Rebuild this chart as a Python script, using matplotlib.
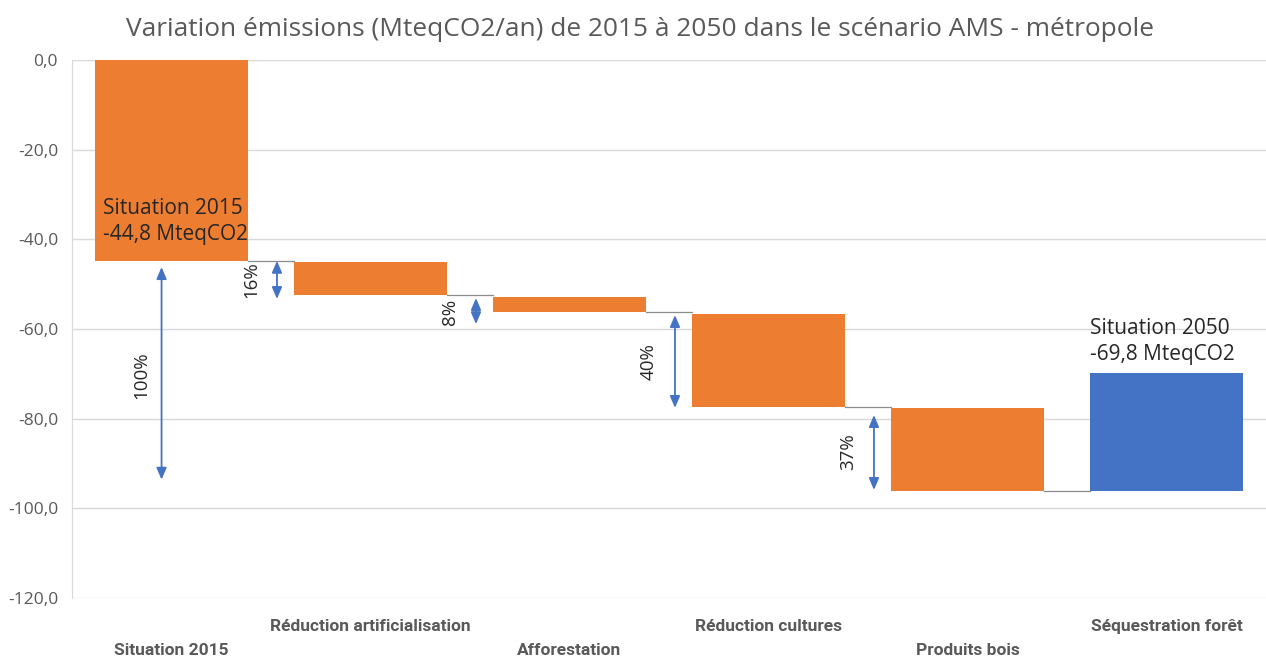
import matplotlib
matplotlib.use('Agg')
import matplotlib.pyplot as plt

# data
categories = ['Situation 2015', 'Réduction artificialisation', 'Afforestation',
              'Réduction cultures', 'Produits bois', 'Séquestration forêt']
bar_top    = [0.0, -45.0, -52.8, -56.7, -77.7, -69.8]
bar_bottom = [-44.8, -52.4, -56.3, -77.3, -96.1, -96.1]
bar_kind   = ['total', 'step', 'step', 'step', 'step', 'total2']

pct_labels = ['100%', '16%', '8%', '40%', '37%']
pct_from   = [-46.2, -44.8, -53.1, -56.9, -79.2]
pct_to     = [-93.6, -53.3, -58.9, -77.6, -95.9]
pct_label_y = [-70.2, -49.0, -56.2, -67.3, -87.4]

yticks = [0, -20, -40, -60, -80, -100, -120]

ORANGE = '#ED7D31'
BLUE   = '#4472C4'
GRID   = '#D9D9D9'
TXT    = '#595959'
DARK   = '#262626'

fig = plt.figure(figsize=(12.66, 6.59), dpi=100)
ax = fig.add_axes([72/1266, 1 - 598/659, 1 - 72/1266, (598 - 60)/659])

W = 0.77
x = list(range(len(categories)))
colors = [BLUE if k == 'total2' else ORANGE for k in bar_kind]
heights = [t - b for t, b in zip(bar_top, bar_bottom)]
ax.bar(x, heights, bottom=bar_bottom, width=W, color=colors, zorder=3)

# connectors between bars
for i in range(len(x) - 1):
    ax.plot([x[i] + W/2, x[i+1] - W/2], [bar_bottom[i], bar_bottom[i]],
            color='#8c8c8c', lw=0.9, zorder=2)

# percentage arrows
arrow_x = [x[0] - 0.05] + [x[i] + 0.53 for i in range(4)]
label_x = [x[0] - 0.15] + [x[i] + 0.40 for i in range(4)]
for ax_, lx, y0, y1, ly, lab in zip(arrow_x, label_x, pct_from, pct_to, pct_label_y, pct_labels):
    ax.annotate('', xy=(ax_, y1), xytext=(ax_, y0),
                arrowprops=dict(arrowstyle='<|-|>,head_length=0.7,head_width=0.3',
                                color=BLUE, lw=1.3, shrinkA=0, shrinkB=0),
                zorder=4)
    ax.text(lx, ly, lab, rotation=90, ha='center', va='center',
            fontsize=13.5, color=DARK, family='Open Sans', zorder=5)

# total labels
ax.annotate('Situation 2015\n-44,8 MteqCO2', xy=(x[0] - W/2, -36.0),
            xytext=(6, 0), textcoords='offset points', ha='left', va='center',
            fontsize=15, color=DARK, family='Open Sans', linespacing=1.3, zorder=5)
ax.annotate('Situation 2050\n-69,8 MteqCO2', xy=(x[5] - W/2, bar_top[5]),
            xytext=(0, 6), textcoords='offset points', ha='left', va='bottom',
            fontsize=15, color=DARK, family='Open Sans', linespacing=1.3, zorder=5)

ax.set_xlim(-0.5, 5.5)
ax.set_ylim(-120, 0)
ax.set_yticks(yticks)
ax.set_yticklabels([f'{v:.1f}'.replace('.', ',') for v in yticks])
ax.grid(axis='y', color=GRID, lw=1, zorder=0)
ax.tick_params(axis='y', length=0, pad=10, labelsize=12.5, labelcolor=TXT)
ax.tick_params(axis='x', length=0)
ax.set_xticks([])
for s in ['top', 'right', 'bottom']:
    ax.spines[s].set_visible(False)
ax.spines['left'].set_color(GRID)
for lab in ax.get_yticklabels():
    lab.set_family('Open Sans')

# staggered category labels
for i, c in enumerate(categories):
    yy = -126.4 if i % 2 == 1 else -131.6
    ax.text(i, yy, c, ha='center', va='center', fontsize=12.5, fontweight='bold',
            color=TXT, family='Roboto', clip_on=False)

fig.text(640/1266, 1 - 29/659,
         'Variation émissions (MteqCO2/an) de 2015 à 2050 dans le scénario AMS - métropole',
         ha='center', va='center', fontsize=18.9, color=TXT, family='Open Sans')

fig.savefig('out.png', dpi=100, facecolor='white')
